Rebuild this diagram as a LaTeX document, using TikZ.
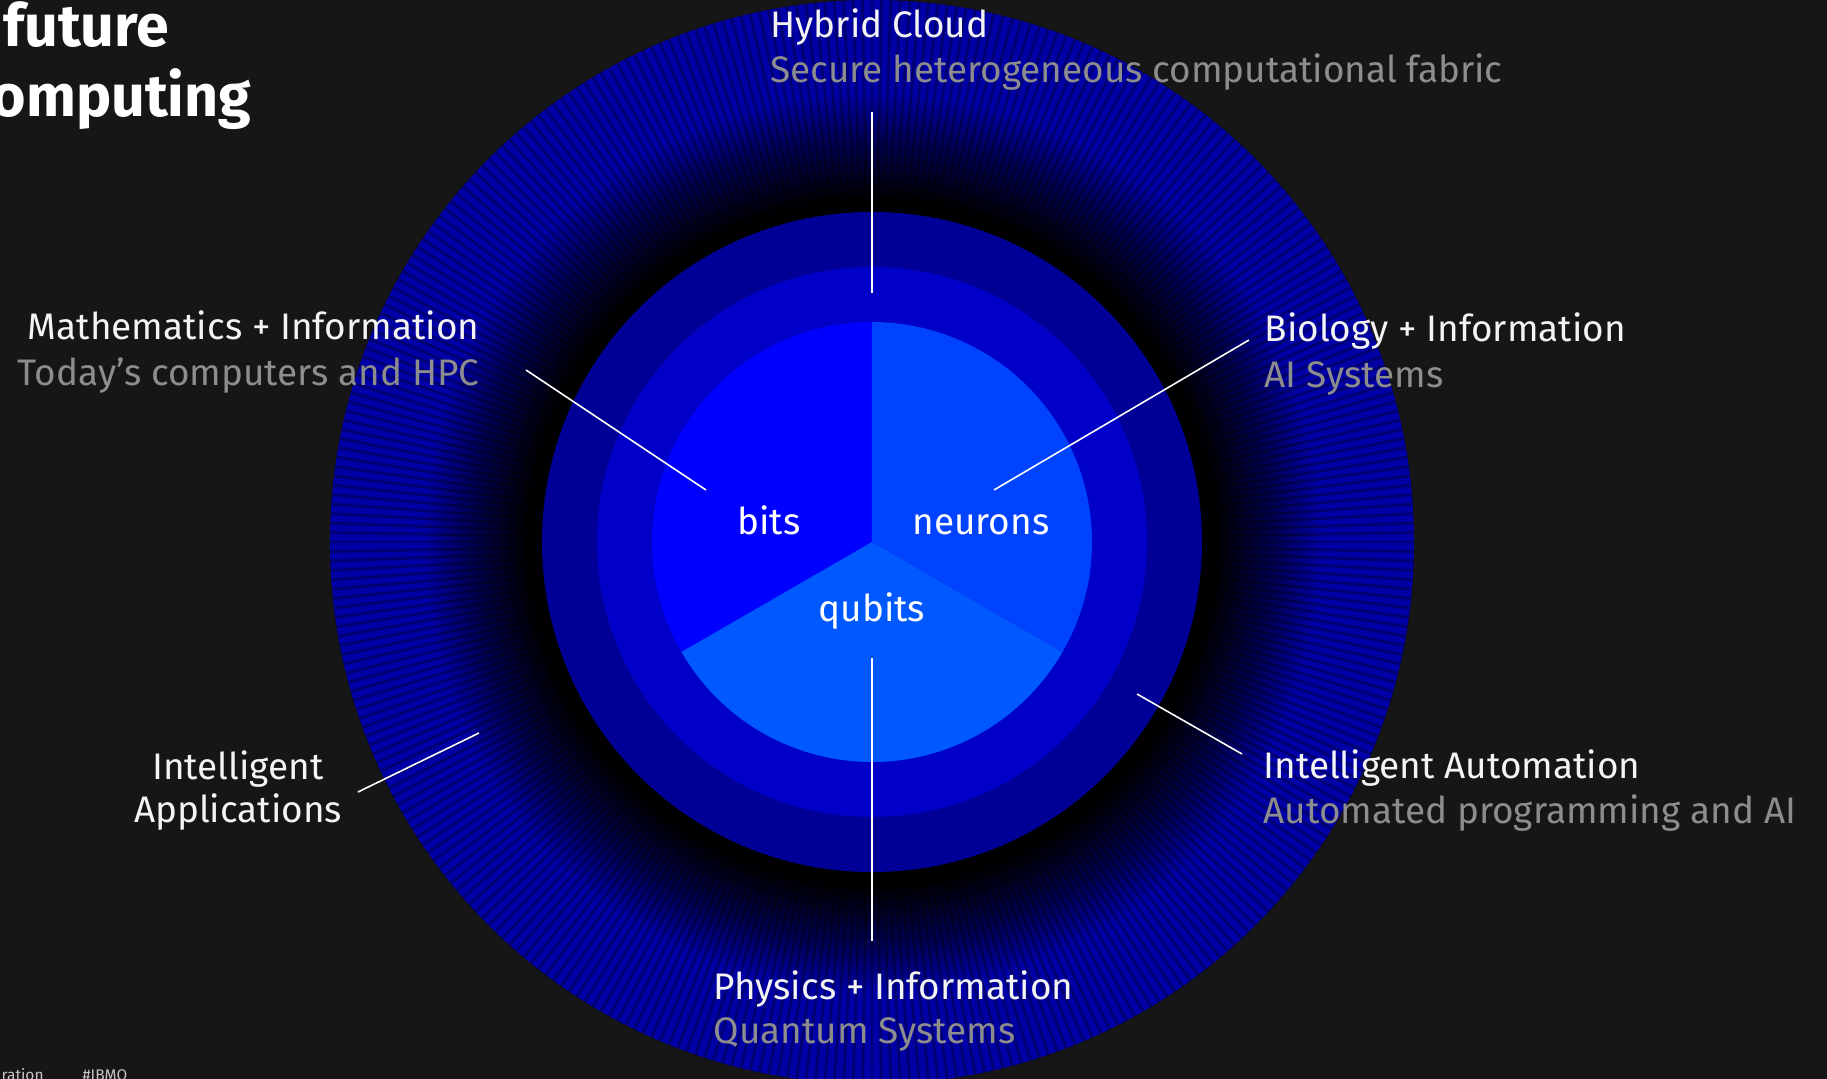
\documentclass[tikz,border=0pt]{standalone}
\usepackage{fontspec}
\setmainfont{Fira Sans}
\usetikzlibrary{positioning}

\definecolor{bg}{HTML}{161616}
\definecolor{labelwhite}{HTML}{F4F4F4}
\definecolor{subgray}{HTML}{8D8D8D}
\definecolor{footgray}{HTML}{C6C6C6}
\definecolor{ringrim}{HTML}{0000A6}
\definecolor{ringmid}{HTML}{000050}
\definecolor{ringtwo}{HTML}{000096}
\definecolor{ringthree}{HTML}{0000C8}
\definecolor{bitsblue}{HTML}{0000FF}
\definecolor{neuronblue}{HTML}{0043FF}
\definecolor{qubitblue}{HTML}{0059FF}

\pgfdeclareradialshading{ringfade}{\pgfpoint{0bp}{0bp}}{color(0bp)=(black); color(15.8bp)=(black); color(18.5bp)=(ringmid); color(20.8bp)=(ringrim); color(25bp)=(ringrim); color(50bp)=(ringrim)}

\newcommand{\labelfont}{\fontsize{10.5}{12.5}\selectfont}
\newcommand{\titlefont}{\fontsize{16.8}{19}\selectfont\bfseries}
\newcommand{\footfont}{\fontsize{4.4}{5}\selectfont}

\begin{document}
\begin{tikzpicture}[x=0.01cm,y=0.01cm,
	head node/.style={text=labelwhite,font=\labelfont,inner sep=0pt},
	sub node/.style={text=subgray,font=\labelfont,inner sep=0pt},
	core node/.style={text=white,font=\labelfont,inner sep=0pt},
	title node/.style={text=white,font=\titlefont,inner sep=0pt},
	foot node/.style={text=footgray,font=\footfont,inner sep=0pt},
	leader line/.style={draw=white,line width=0.45pt},
	stripe line/.style={draw=black,opacity=0.3,line width=0.8pt}]

	\fill[bg] (-872,-537) rectangle (955,542);
	\useasboundingbox (-872,-537) rectangle (955,542);

	% rings
	\fill[shading=ringfade] (0,0) circle (542);
	\foreach \a in {0,1,...,359}
		\draw[stripe line] (\a:338) -- (\a:542);
	\fill[ringtwo] (0,0) circle (330);
	\fill[ringthree] (0,0) circle (275);

	% pie
	\fill[bitsblue] (0,0) -- (90:220) arc[start angle=90,end angle=210,radius=220] -- cycle;
	\fill[qubitblue] (0,0) -- (210:220) arc[start angle=210,end angle=330,radius=220] -- cycle;
	\fill[neuronblue] (0,0) -- (-30:220) arc[start angle=-30,end angle=90,radius=220] -- cycle;

	\node[core node,anchor=base] (bits) at (-103,7) {bits};
	\node[core node,anchor=base] (neurons) at (109,7) {neurons};
	\node[core node,anchor=base] (qubits) at (0,-80) {qubits};

	% labels
	\node[head node,anchor=base west] (hybrid) at (-102,504) {Hybrid Cloud};
	\node[sub node,anchor=base west] (hybrid-sub) at ([yshift=-0.44cm]hybrid.base west) {Secure heterogeneous computational fabric};

	\node[head node,anchor=base east] (math) at (-392,202) {Mathematics + Information};
	\node[sub node,anchor=base east] (math-sub) at ([yshift=-0.45cm]math.base east) {Today’s computers and HPC};

	\node[head node,anchor=base west] (bio) at (392,200) {Biology + Information};
	\node[sub node,anchor=base west] (bio-sub) at ([yshift=-0.45cm]bio.base west) {AI Systems};

	\node[head node,anchor=base west] (auto) at (391,-237) {Intelligent Automation};
	\node[sub node,anchor=base west] (auto-sub) at ([yshift=-0.44cm]auto.base west) {Automated programming and AI};

	\node[head node,anchor=base west] (phys) at (-159,-457) {Physics + Information};
	\node[sub node,anchor=base west] (phys-sub) at ([yshift=-0.44cm]phys.base west) {Quantum Systems};

	\node[head node,anchor=base] (apps) at (-634,-238) {Intelligent};
	\node[head node,anchor=base] (apps-2) at ([yshift=-0.42cm]apps.base) {Applications};

	% leaders
	\coordinate (hybrid-a) at (0,430);
	\coordinate (hybrid-b) at (0,249);
	\coordinate (math-a) at (-346,172);
	\coordinate (math-b) at (-166,52);
	\coordinate (bio-a) at (377,202);
	\coordinate (bio-b) at (122,52);
	\coordinate (auto-a) at (370,-212);
	\coordinate (auto-b) at (265,-152);
	\coordinate (apps-a) at (-514,-250);
	\coordinate (apps-b) at (-393,-191);
	\coordinate (phys-a) at (0,-399);
	\coordinate (phys-b) at (0,-116);
	\foreach \n in {hybrid,math,bio,auto,apps,phys}
		\draw[leader line] (\n-a) -- (\n-b);

	% title and footer
	\node[title node,anchor=base east] (title-1) at (-702,495) {future};
	\node[title node,anchor=base east] (title-2) at (-620,425) {omputing};
	\node[foot node,anchor=base west] (foot-1) at (-871,-538) {ration};
	\node[foot node,anchor=base west] (foot-2) at (-790,-538) {\#IBMQ};
\end{tikzpicture}
\end{document}
